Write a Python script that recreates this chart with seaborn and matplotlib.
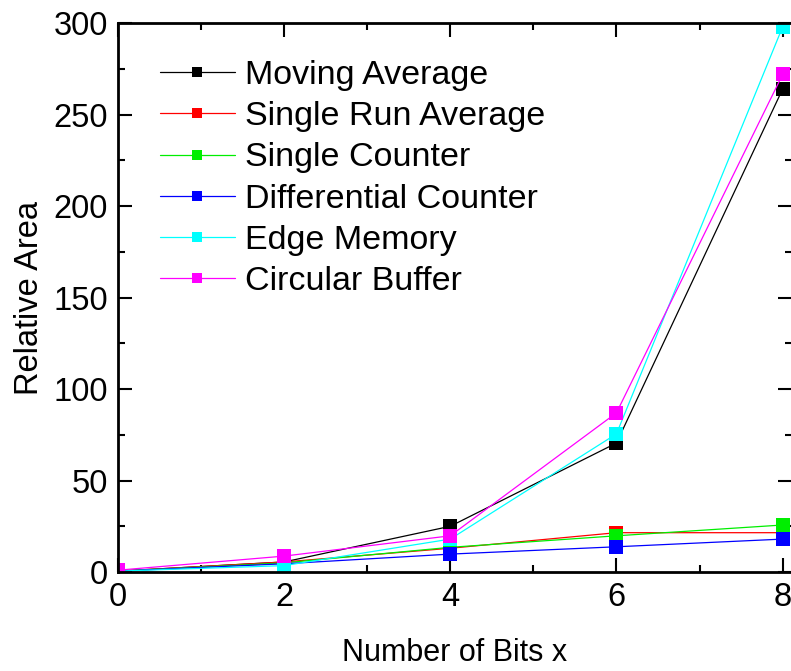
import pandas as pd
import matplotlib.pyplot as plt
import seaborn as sns
from matplotlib.ticker import MultipleLocator

bits = [0, 2, 4, 6, 8]
moving_average = [0.5, 5.5, 25, 70.5, 264]
single_run_average = [0.5, 5.5, 13, 21.5, 21.5]
single_counter = [0.5, 5, 13.5, 19.8, 25.7]
differential_counter = [0.5, 4.5, 9.8, 13.8, 18]
edge_memory = [0.5, 3.5, 18, 75.5, 298]
circular_buffer = [1, 8.7, 19.8, 87, 272]

names = ["Moving Average", "Single Run Average", "Single Counter",
         "Differential Counter", "Edge Memory", "Circular Buffer"]
colors = ["#000000", "#ff0000", "#00ee00", "#0000ff", "#00ffff", "#ff00ff"]
series = [moving_average, single_run_average, single_counter,
          differential_counter, edge_memory, circular_buffer]

df = pd.DataFrame({"Bits": bits * len(names),
                   "Area": sum(series, []),
                   "Design": [n for n in names for _ in bits]})

sns.set_style("ticks", {"axes.edgecolor": "black", "text.color": "black",
                        "xtick.color": "black", "ytick.color": "black",
                        "axes.labelcolor": "black"})
plt.rcParams["font.family"] = ["Liberation Sans", "DejaVu Sans"]

fig = plt.figure(figsize=(7.91, 6.71), dpi=100)
ax = fig.add_axes([0.149, 0.1475, 0.852, 0.818])

sns.lineplot(data=df, x="Bits", y="Area", hue="Design", hue_order=names,
             palette=colors, marker="s", markersize=9.5, markeredgewidth=0,
             linewidth=0.9, ax=ax)

ax.set_xlim(0, 8.11)
ax.set_ylim(0, 300)
ax.xaxis.set_major_locator(MultipleLocator(2))
ax.xaxis.set_minor_locator(MultipleLocator(1))
ax.yaxis.set_major_locator(MultipleLocator(50))
ax.yaxis.set_minor_locator(MultipleLocator(25))
ax.tick_params(which="both", direction="in", top=True, right=True, width=1.5,
               labelsize=23.5, colors="black")
ax.tick_params(which="major", length=10, pad=7)
ax.tick_params(which="minor", length=5)
for s in ax.spines.values():
    s.set_linewidth(2)
    s.set_color("black")

ax.set_xlabel("Number of Bits x", fontsize=22, labelpad=18, color="black")
ax.set_ylabel("Relative Area", fontsize=23.5, labelpad=6, color="black")

leg = ax.legend(loc="upper left", bbox_to_anchor=(160 / 791, 1 - 60 / 671),
                bbox_transform=fig.transFigure, frameon=False, fontsize=24.5,
                handlelength=2.2, handletextpad=0.3, labelspacing=0.3,
                borderpad=0, borderaxespad=0, markerscale=0.8)
for t in leg.get_texts():
    t.set_color("black")

fig.savefig("out.png", dpi=100)
